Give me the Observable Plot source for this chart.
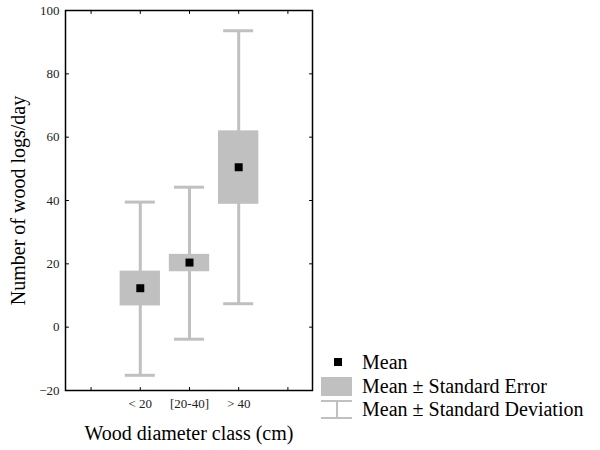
<!DOCTYPE html>
<html>
<head>
<meta charset="utf-8">
<script src="https://cdn.jsdelivr.net/npm/d3@7"></script>
<script src="https://cdn.jsdelivr.net/npm/@observablehq/plot@0.6"></script>
<style>
  body { margin: 0; background: #fff; }
  #wrap { position: relative; width: 600px; height: 450px; font-family: "Liberation Serif", "Times New Roman", serif; }
  #legend { position: absolute; left: 0; top: 0; }
</style>
</head>
<body>
<div id="wrap"></div>
<script>
// ---- data ----
const categories = ["< 20", "[20-40]", "> 40"];
const means      = [12.3, 20.4, 50.5];
const seLow      = [6.7, 17.5, 38.8];
const seHigh     = [17.7, 23.0, 62.0];
const sdLow      = [-15.2, -3.8, 7.4];
const sdHigh     = [39.5, 44.2, 93.6];
const yTicks     = [-20, 0, 20, 40, 60, 80, 100];
const xTicks     = [0, 1, 2, 3, 4];
const legendLabels = ["Mean", "Mean \u00B1 Standard Error", "Mean \u00B1 Standard Deviation"];

const rows = categories.map((c, i) => ({
  cat: c, x: i + 1, mean: means[i], seLow: seLow[i], seHigh: seHigh[i], sdLow: sdLow[i], sdHigh: sdHigh[i]
}));

const serif = "'Liberation Serif', 'Times New Roman', serif";
const grey = "#c0c0c0";
const boxHalf = 0.41;
const capHalf = 0.305;
const tickShape = { draw(ctx, l) { ctx.moveTo(0, 0); ctx.lineTo(0, -l); } };
const tickOpts = { length: 3, anchor: "start", shape: tickShape, stroke: "black", strokeWidth: 1 };

const chart = Plot.plot({
  width: 600,
  height: 450,
  marginLeft: 65,
  marginRight: 288,
  marginTop: 10,
  marginBottom: 60,
  style: { fontFamily: serif, background: "white" },
  x: { type: "linear", domain: [-0.52, 4.5] },
  y: { domain: [-20, 100] },
  marks: [
    // SD whiskers
    Plot.ruleX(rows, { x: "x", y1: "sdLow", y2: "sdHigh", stroke: grey, strokeWidth: 3 }),
    Plot.ruleY(rows, { y: "sdLow", x1: d => d.x - capHalf, x2: d => d.x + capHalf, stroke: grey, strokeWidth: 3 }),
    Plot.ruleY(rows, { y: "sdHigh", x1: d => d.x - capHalf, x2: d => d.x + capHalf, stroke: grey, strokeWidth: 3 }),
    // SE boxes
    Plot.rect(rows, { x1: d => d.x - boxHalf, x2: d => d.x + boxHalf, y1: "seLow", y2: "seHigh", fill: grey }),
    // means
    Plot.dot(rows, { x: "x", y: "mean", symbol: "square", r: 4.5, fill: "black" }),
    // frame
    Plot.frame({ stroke: "black", strokeWidth: 1.5 }),
    // inward ticks
    Plot.vector(yTicks, { y: d => d, frameAnchor: "left", rotate: 90, ...tickOpts }),
    Plot.vector(yTicks, { y: d => d, frameAnchor: "right", rotate: -90, ...tickOpts }),
    Plot.vector(xTicks, { x: d => d, frameAnchor: "bottom", rotate: 0, ...tickOpts }),
    Plot.vector(xTicks, { x: d => d, frameAnchor: "top", rotate: 180, ...tickOpts }),
    // axis labels
    Plot.axisY({ ticks: yTicks, tickSize: 0, tickPadding: 6, fontSize: 13, fontFamily: serif, color: "#222", label: null }),
    Plot.axisX({ ticks: [1, 2, 3], tickFormat: d => categories[d - 1], tickSize: 0, tickPadding: 8, fontSize: 13, fontFamily: serif, color: "#222", label: null }),
    // axis titles
    Plot.text(["Wood diameter class (cm)"], { frameAnchor: "bottom", dy: 43, lineAnchor: "middle", textAnchor: "middle", fontSize: 20, fontFamily: serif, fill: "black" }),
    Plot.text(["Number of wood logs/day"], { frameAnchor: "left", dx: -47, rotate: -90, lineAnchor: "middle", textAnchor: "middle", fontSize: 20, fontFamily: serif, fill: "black" })
  ]
});

const wrap = document.getElementById("wrap");
wrap.appendChild(chart);

// ---- legend (overlay) ----
const svgNS = "http://www.w3.org/2000/svg";
const leg = document.createElementNS(svgNS, "svg");
leg.setAttribute("id", "legend");
leg.setAttribute("width", 600);
leg.setAttribute("height", 450);
const baseY = [369, 393, 416];
const g = d3.select(leg);
// swatch: mean
g.append("rect").attr("x", 334).attr("y", 358).attr("width", 8).attr("height", 8).attr("fill", "black");
// swatch: SE
g.append("rect").attr("x", 321).attr("y", 377).attr("width", 31).attr("height", 19).attr("fill", grey);
// swatch: SD
g.append("line").attr("x1", 321).attr("x2", 352).attr("y1", 401).attr("y2", 401).attr("stroke", grey).attr("stroke-width", 2);
g.append("line").attr("x1", 321).attr("x2", 352).attr("y1", 418).attr("y2", 418).attr("stroke", grey).attr("stroke-width", 2);
g.append("line").attr("x1", 337).attr("x2", 337).attr("y1", 401).attr("y2", 418).attr("stroke", grey).attr("stroke-width", 2);
legendLabels.forEach((t, i) => {
  g.append("text").attr("x", 362).attr("y", baseY[i]).attr("font-size", 20)
    .attr("font-family", serif).attr("fill", "black").text(t);
});
wrap.appendChild(leg);
</script>
</body>
</html>
